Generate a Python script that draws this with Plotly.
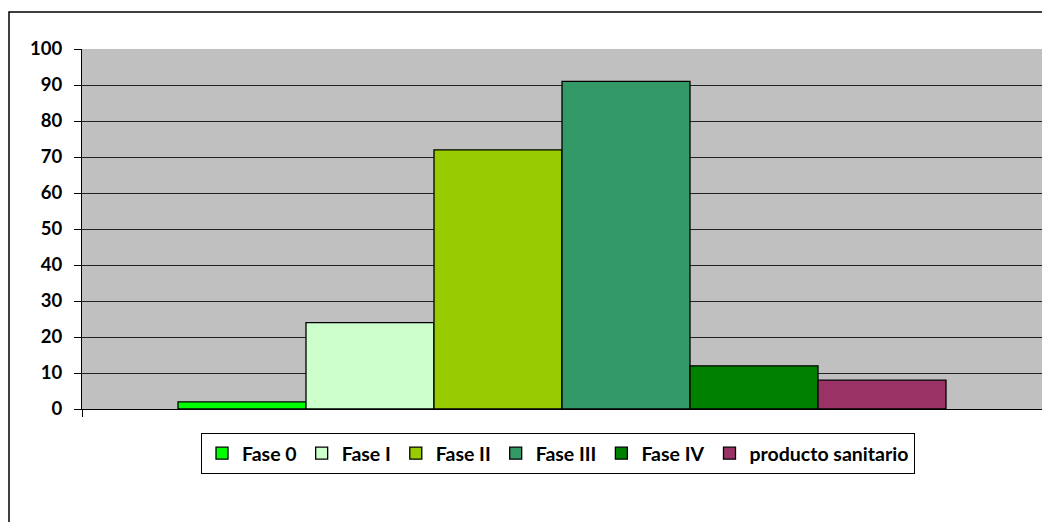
import plotly.graph_objects as go

categories = [""]
series_names = ["Fase 0", "Fase I", "Fase II", "Fase III", "Fase IV", "producto sanitario"]
series_values = [2, 24, 72, 91, 12, 8]
colors = ["#00FF00", "#CCFFCC", "#99CC00", "#339966", "#008000", "#993366"]
y_ticks = [0, 10, 20, 30, 40, 50, 60, 70, 80, 90, 100]

fig = go.Figure()
for name, val, col in zip(series_names, series_values, colors):
    fig.add_trace(go.Bar(
        x=categories, y=[val], name=name,
        marker=dict(color=col, line=dict(color="#000000", width=1.3)),
    ))

W, H = 1042, 522
L, R, T, B = 82, 0, 49, 113
pw = W - L - R
ph = H - T - B

fig.update_layout(
    width=W, height=H,
    margin=dict(l=L, r=R, t=T, b=B),
    barmode="group", bargap=0.2, bargroupgap=0,
    plot_bgcolor="#C0C0C0", paper_bgcolor="#FFFFFF",
    font=dict(family="Lato", size=18, color="#000000"),
    showlegend=True,
    legend=dict(
        orientation="h", x=(558 - L) / pw, xanchor="center",
        y=(409 - 433) / ph, yanchor="top",
        bordercolor="#000000", borderwidth=1,
        font=dict(family="Lato", size=19.5, color="#000000", weight="bold"),
        itemwidth=30, traceorder="normal",
    ),
    xaxis=dict(
        showticklabels=False, showline=True, linecolor="#000000", linewidth=1,
        ticks="outside", tickson="boundaries", ticklen=7, tickcolor="#000000",
        showgrid=False, range=[-0.5, 0.5],
    ),
    yaxis=dict(
        range=[0, 100], tickvals=y_ticks, ticktext=[str(v) for v in y_ticks],
        showgrid=True, gridcolor="#222222", gridwidth=1,
        showline=True, linecolor="#000000", linewidth=1,
        ticks="outside", ticklen=7, tickcolor="#000000", ticklabelstandoff=8,
        tickfont=dict(family="Lato", size=18.5, color="#000000", weight="bold"),
        zeroline=False,
    ),
    shapes=[dict(
        type="rect", xref="paper", yref="paper",
        x0=(9 - L) / pw, x1=1.05, y0=(409 - 530) / ph, y1=(409 - 12) / ph,
        line=dict(color="#000000", width=1.5), fillcolor="rgba(0,0,0,0)", layer="below",
    )],
)

fig.write_html(
    "out.html",
    config={"displayModeBar": False},
    post_script="document.body.style.margin='0';document.body.style.overflow='hidden';",
)
